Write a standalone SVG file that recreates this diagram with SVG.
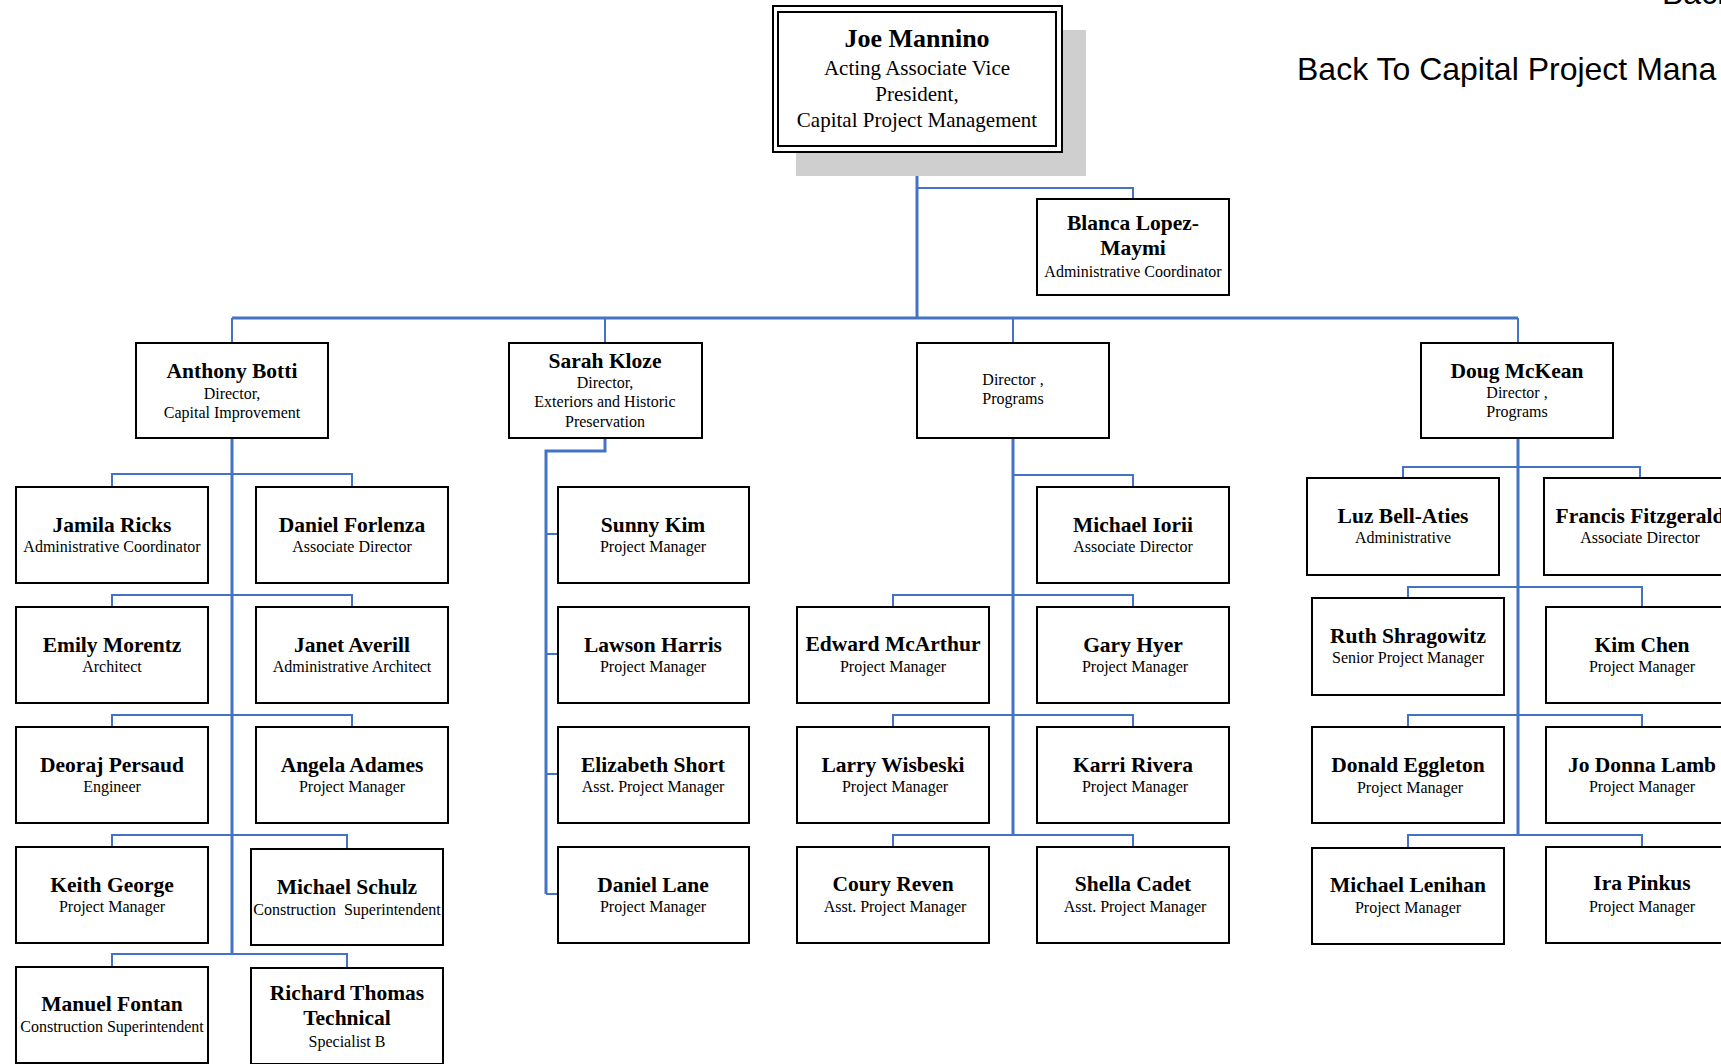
<svg xmlns="http://www.w3.org/2000/svg" width="1721" height="1064" viewBox="0 0 1721 1064">
<style>
.bg{fill:#fff}
.box{fill:#fff;stroke:#000;stroke-width:2}
.nm{font-family:"Liberation Serif","Times New Roman",serif;font-weight:bold;font-size:21.5px;text-anchor:middle;fill:#000}
.sb{font-family:"Liberation Serif","Times New Roman",serif;font-size:16px;text-anchor:middle;fill:#000}
.ln{fill:none;stroke:#4472C4;stroke-width:2}
.tr{fill:none;stroke:#4472C4;stroke-width:3}
.lk{font-family:"Liberation Sans",Arial,sans-serif;font-size:32px;fill:#000}
</style>
<rect class="bg" x="0" y="0" width="1721" height="1064"/>
<text class="lk" x="1662" y="4">Back</text>
<text class="lk" x="1297" y="80">Back To Capital Project Mana</text>

<g id="connectors">
<path class="tr" d="M917 152V318"/>
<path class="ln" d="M917 188H1133V199"/>
<path class="tr" d="M232 318H1518"/>
<path class="ln" d="M232 318V343M605 318V343M1013 318V343M1518 318V343"/>
<path class="tr" d="M232 438V954"/>
<path class="ln" d="M112 487V474H352V487M112 607V595H352V607M112 727V715H352V727M112 847V835H347V849M112 967V954H347V968"/>
<path class="tr" d="M605 438V451H546V894"/>
<path class="ln" d="M546 534H558M546 654H558M546 774H558M546 894H558"/>
<path class="tr" d="M1013 438V835"/>
<path class="ln" d="M1013 475H1133V487M893 607V595H1133V607M893 727V715H1133V727M893 847V835H1133V847"/>
<path class="tr" d="M1518 438V835"/>
<path class="ln" d="M1403 478V467H1640V478M1408 598V587H1642V607M1408 727V715H1642V727M1408 848V835H1642V847"/>
</g>

<g id="joe">
<rect x="796" y="30" width="290" height="146" fill="#cfcfcf"/>
<rect class="box" x="773" y="6" width="289" height="146"/>
<rect class="box" x="778" y="12" width="278" height="134"/>
<text class="nm" x="917" y="47" style="font-size:26px">Joe Mannino</text>
<text class="sb" x="917" y="75" style="font-size:21px">Acting Associate Vice</text>
<text class="sb" x="917" y="101" style="font-size:21px">President,</text>
<text class="sb" x="917" y="127" style="font-size:21px">Capital Project Management</text>
</g>

<g id="blanca">
<rect class="box" x="1037" y="199" width="192" height="96"/>
<text class="nm" x="1133" y="230">Blanca Lopez-</text>
<text class="nm" x="1133" y="255">Maymi</text>
<text class="sb" x="1133" y="277">Administrative Coordinator</text>
</g>

<g id="anthony">
<rect class="box" x="136" y="343" width="192" height="95"/>
<text class="nm" x="232" y="378">Anthony Botti</text>
<text class="sb" x="232" y="399">Director,</text>
<text class="sb" x="232" y="418">Capital Improvement</text>
</g>

<g id="sarah">
<rect class="box" x="509" y="343" width="193" height="95"/>
<text class="nm" x="605" y="368">Sarah Kloze</text>
<text class="sb" x="605" y="388">Director,</text>
<text class="sb" x="605" y="407">Exteriors and Historic</text>
<text class="sb" x="605" y="427">Preservation</text>
</g>

<g id="programs">
<rect class="box" x="917" y="343" width="192" height="95"/>
<text class="sb" x="1013" y="385">Director ,</text>
<text class="sb" x="1013" y="404">Programs</text>
</g>

<g id="doug">
<rect class="box" x="1421" y="343" width="192" height="95"/>
<text class="nm" x="1517" y="378">Doug McKean</text>
<text class="sb" x="1517" y="398">Director ,</text>
<text class="sb" x="1517" y="417">Programs</text>
</g>

<g id="jamila"><rect class="box" x="16" y="487" width="192" height="96"/><text class="nm" x="112" y="532">Jamila Ricks</text><text class="sb" x="112" y="552">Administrative Coordinator</text></g>
<g id="forlenza"><rect class="box" x="256" y="487" width="192" height="96"/><text class="nm" x="352" y="532">Daniel Forlenza</text><text class="sb" x="352" y="552">Associate Director</text></g>
<g id="emily"><rect class="box" x="16" y="607" width="192" height="96"/><text class="nm" x="112" y="652">Emily Morentz</text><text class="sb" x="112" y="672">Architect</text></g>
<g id="janet"><rect class="box" x="256" y="607" width="192" height="96"/><text class="nm" x="352" y="652">Janet Averill</text><text class="sb" x="352" y="672">Administrative Architect</text></g>
<g id="deoraj"><rect class="box" x="16" y="727" width="192" height="96"/><text class="nm" x="112" y="772">Deoraj Persaud</text><text class="sb" x="112" y="792">Engineer</text></g>
<g id="angela"><rect class="box" x="256" y="727" width="192" height="96"/><text class="nm" x="352" y="772">Angela Adames</text><text class="sb" x="352" y="792">Project Manager</text></g>
<g id="keith"><rect class="box" x="16" y="847" width="192" height="96"/><text class="nm" x="112" y="892">Keith George</text><text class="sb" x="112" y="912">Project Manager</text></g>
<g id="schulz"><rect class="box" x="251" y="849" width="192" height="96"/><text class="nm" x="347" y="894">Michael Schulz</text><text class="sb" x="347" y="915" style="white-space:pre">Construction  Superintendent</text></g>
<g id="manuel"><rect class="box" x="16" y="967" width="192" height="96"/><text class="nm" x="112" y="1011">Manuel Fontan</text><text class="sb" x="112" y="1032">Construction Superintendent</text></g>
<g id="richard"><rect class="box" x="251" y="968" width="192" height="96"/><text class="nm" x="347" y="1000">Richard Thomas</text><text class="nm" x="347" y="1025">Technical</text><text class="sb" x="347" y="1047">Specialist B</text></g>

<g id="sunny"><rect class="box" x="558" y="487" width="191" height="96"/><text class="nm" x="653" y="532">Sunny Kim</text><text class="sb" x="653" y="552">Project Manager</text></g>
<g id="lawson"><rect class="box" x="558" y="607" width="191" height="96"/><text class="nm" x="653" y="652">Lawson Harris</text><text class="sb" x="653" y="672">Project Manager</text></g>
<g id="elizabeth"><rect class="box" x="558" y="727" width="191" height="96"/><text class="nm" x="653" y="772">Elizabeth Short</text><text class="sb" x="653" y="792">Asst. Project Manager</text></g>
<g id="lane"><rect class="box" x="558" y="847" width="191" height="96"/><text class="nm" x="653" y="892">Daniel Lane</text><text class="sb" x="653" y="912">Project Manager</text></g>

<g id="iorii"><rect class="box" x="1037" y="487" width="192" height="96"/><text class="nm" x="1133" y="532">Michael Iorii</text><text class="sb" x="1133" y="552">Associate Director</text></g>
<g id="edward"><rect class="box" x="797" y="607" width="192" height="96"/><text class="nm" x="893" y="651">Edward McArthur</text><text class="sb" x="893" y="672">Project Manager</text></g>
<g id="gary"><rect class="box" x="1037" y="607" width="192" height="96"/><text class="nm" x="1133" y="652">Gary Hyer</text><text class="sb" x="1135" y="672">Project Manager</text></g>
<g id="larry"><rect class="box" x="797" y="727" width="192" height="96"/><text class="nm" x="893" y="772">Larry Wisbeski</text><text class="sb" x="895" y="792">Project Manager</text></g>
<g id="karri"><rect class="box" x="1037" y="727" width="192" height="96"/><text class="nm" x="1133" y="772">Karri Rivera</text><text class="sb" x="1135" y="792">Project Manager</text></g>
<g id="coury"><rect class="box" x="797" y="847" width="192" height="96"/><text class="nm" x="893" y="891">Coury Reven</text><text class="sb" x="895" y="912">Asst. Project Manager</text></g>
<g id="shella"><rect class="box" x="1037" y="847" width="192" height="96"/><text class="nm" x="1133" y="891">Shella Cadet</text><text class="sb" x="1135" y="912">Asst. Project Manager</text></g>

<g id="luz"><rect class="box" x="1307" y="478" width="192" height="97"/><text class="nm" x="1403" y="523">Luz Bell-Aties</text><text class="sb" x="1403" y="543">Administrative</text></g>
<g id="francis"><rect class="box" x="1544" y="478" width="192" height="97"/><text class="nm" x="1640" y="523">Francis Fitzgerald</text><text class="sb" x="1640" y="543">Associate Director</text></g>
<g id="ruth"><rect class="box" x="1312" y="598" width="192" height="97"/><text class="nm" x="1408" y="643">Ruth Shragowitz</text><text class="sb" x="1408" y="663">Senior Project Manager</text></g>
<g id="kimchen"><rect class="box" x="1546" y="607" width="192" height="96"/><text class="nm" x="1642" y="652">Kim Chen</text><text class="sb" x="1642" y="672">Project Manager</text></g>
<g id="donald"><rect class="box" x="1312" y="727" width="192" height="96"/><text class="nm" x="1408" y="772">Donald Eggleton</text><text class="sb" x="1410" y="793">Project Manager</text></g>
<g id="jodonna"><rect class="box" x="1546" y="727" width="192" height="96"/><text class="nm" x="1642" y="772">Jo Donna Lamb</text><text class="sb" x="1642" y="792">Project Manager</text></g>
<g id="lenihan"><rect class="box" x="1312" y="848" width="192" height="96"/><text class="nm" x="1408" y="892">Michael Lenihan</text><text class="sb" x="1408" y="913">Project Manager</text></g>
<g id="ira"><rect class="box" x="1546" y="847" width="192" height="96"/><text class="nm" x="1642" y="890">Ira Pinkus</text><text class="sb" x="1642" y="912">Project Manager</text></g>
</svg>
